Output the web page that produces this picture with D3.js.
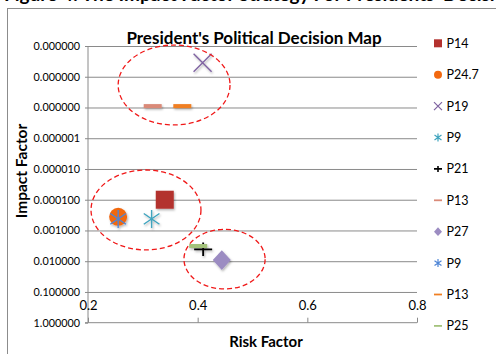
<!DOCTYPE html>
<html lang="en">
<head>
<meta charset="utf-8">
<title>President's Political Decision Map</title>
<script src="https://d3js.org/d3.v7.min.js"></script>
<style>
  body { margin: 0; background: #fff; }
  svg { display: block; }
  text { font-family: Lato, "Open Sans", sans-serif; fill: #000; }
  .domain { display: none; }
</style>
</head>
<body>
<script>
// data
const seriesNames = ["P14", "P24.7", "P19", "P9", "P21", "P13", "P27", "P9", "P13", "P25"];
const riskValues = [0.340, 0.255, 0.409, 0.316, 0.410, 0.318, 0.444, 0.255, 0.372, 0.401];
const impactValues = [0.0001, 0.00036, 3.5e-9, 0.00042, 0.0041, 9e-8, 0.0092, 0.00042, 9e-8, 0.0032];
const yTicks = [1e-9, 1e-8, 1e-7, 1e-6, 1e-5, 1e-4, 1e-3, 1e-2, 1e-1, 1];
const xTicks = [0.2, 0.4, 0.6, 0.8];

// dashed annotation rings: [xmin, xmax], [ymin, ymax] in data units
const ringX = [[0.255, 0.459], [0.2055, 0.406], [0.375, 0.523]];
const ringY = [[9.3e-10, 3.7e-7], [1.08e-5, 4.3e-3], [9.2e-4, 0.08]];

// marker style per series
const markerType = ["square", "circle", "x", "star", "plus", "dash", "diamond", "star", "dash", "dash"];
const markerColor = ["#B3312E", "#F2680F", "#7F63A1", "#3FA4BE", "#000000", "#DA8A78", "#9C8CC2", "#4F86D6", "#F07F22", "#A3C27A"];

const W = 496, H = 354;
const svg = d3.select("body").append("svg").attr("width", W).attr("height", H);

const defs = svg.append("defs");
defs.append("filter").attr("id", "shadow")
    .attr("x", "-50%").attr("y", "-50%").attr("width", "200%").attr("height", "200%")
  .append("feDropShadow")
    .attr("dx", 1).attr("dy", 1.5).attr("stdDeviation", 1)
    .attr("flood-color", "#000").attr("flood-opacity", 0.3);

// caption of the page above the chart (cut off by the crop)
svg.append("text")
    .attr("x", 4).attr("y", 1)
    .style("font-size", "19px").style("font-weight", "bold")
    .text("Figure 4: The Impact Factor Strategy For Presidents' Decisions");

// chart frame
svg.append("rect")
    .attr("x", 7.5).attr("y", 8.5).attr("width", 600).attr("height", 600)
    .attr("fill", "#fff").attr("stroke", "#8c8c8c");

const x = d3.scaleLinear().domain([0.2, 0.8]).range([88, 417]);
const y = d3.scaleLog().domain([1e-9, 1]).range([46, 322.7]);

// horizontal gridlines
svg.append("g")
    .attr("transform", "translate(88,0)")
    .call(d3.axisLeft(y).tickValues(yTicks.slice(0, -1)).tickSize(-(417 - 88)).tickFormat(""))
    .selectAll("line").attr("stroke", "#8a8a8a").attr("stroke-width", 1);

// y axis
const yAxis = svg.append("g")
    .attr("transform", "translate(88,0)")
    .call(d3.axisLeft(y).tickValues(yTicks).tickSize(3).tickPadding(5).tickFormat(d3.format(".6f")));
yAxis.selectAll("line").attr("stroke", "#8a8a8a");
yAxis.selectAll("text").style("font-size", "10.8px").style("font-family", "Lato, sans-serif");
svg.append("line")
    .attr("x1", 88).attr("x2", 88).attr("y1", y(1e-9)).attr("y2", y(1))
    .attr("stroke", "#8a8a8a");

// x axis along the bottom, labels above the line
const xAxis = svg.append("g")
    .attr("transform", "translate(0," + y(1) + ")")
    .call(d3.axisTop(x).tickValues(xTicks).tickSize(5).tickPadding(8).tickFormat(d3.format(".1f")));
xAxis.selectAll("line").attr("stroke", "#8a8a8a");
xAxis.selectAll("text").style("font-size", "13px").style("font-family", "Lato, sans-serif");
svg.append("line")
    .attr("x1", 85).attr("x2", 417).attr("y1", y(1)).attr("y2", y(1))
    .attr("stroke", "#8a8a8a");

// title and axis titles
svg.append("text")
    .attr("x", 254).attr("y", 43.5).attr("text-anchor", "middle")
    .style("font-size", "17px").style("font-weight", "bold")
    .text("President's Political Decision Map");

svg.append("text")
    .attr("transform", "translate(27,171) rotate(-90)").attr("text-anchor", "middle")
    .style("font-size", "15.5px").style("font-weight", "bold")
    .text("Impact Factor");

svg.append("text")
    .attr("x", 266).attr("y", 347.3).attr("text-anchor", "middle")
    .style("font-size", "15px").style("font-weight", "bold")
    .text("Risk Factor");

// marker drawing
function drawMarker(g, type, color, s, lw) {
  const h = s / 2;
  if (type === "square") {
    g.append("rect").attr("x", -h).attr("y", -h).attr("width", s).attr("height", s).attr("fill", color);
  } else if (type === "circle") {
    g.append("circle").attr("r", h).attr("fill", color);
  } else if (type === "diamond") {
    g.append("path").attr("d", `M0,${-h * 1.1}L${h},0L0,${h * 1.1}L${-h},0Z`).attr("fill", color);
  } else if (type === "x") {
    g.append("path").attr("d", `M${-h},${-h}L${h},${h}M${-h},${h}L${h},${-h}`)
      .attr("stroke", color).attr("stroke-width", lw).attr("fill", "none");
  } else if (type === "star") {
    const d = h * 0.87;
    g.append("path").attr("d", `M${-d},${-h * 0.6}L${d},${h * 0.6}M${-d},${h * 0.6}L${d},${-h * 0.6}M0,${-h}L0,${h}`)
      .attr("stroke", color).attr("stroke-width", lw).attr("fill", "none");
  } else if (type === "plus") {
    g.append("path").attr("d", `M${-h},0L${h},0M0,${-h * 0.75}L0,${h * 0.75}`)
      .attr("stroke", color).attr("stroke-width", lw * 1.3).attr("fill", "none");
  } else if (type === "dash") {
    g.append("rect").attr("x", -h).attr("y", -s * 0.11).attr("width", s).attr("height", s * 0.22).attr("fill", color);
  }
}

// points
const points = svg.append("g").attr("filter", "url(#shadow)");
seriesNames.forEach((name, i) => {
  const g = points.append("g")
      .attr("transform", `translate(${x(riskValues[i])},${y(impactValues[i])})`);
  drawMarker(g, markerType[i], markerColor[i], 18, 1.4);
});

// dashed rings
ringX.forEach((rx, i) => {
  const x0 = x(rx[0]), x1 = x(rx[1]);
  const y0 = y(ringY[i][0]), y1 = y(ringY[i][1]);
  svg.append("ellipse")
      .attr("cx", (x0 + x1) / 2).attr("cy", (y0 + y1) / 2)
      .attr("rx", (x1 - x0) / 2).attr("ry", (y1 - y0) / 2)
      .attr("fill", "none").attr("stroke", "#F01818")
      .attr("stroke-width", 1.3).attr("stroke-dasharray", "5,3");
});

// legend
const legend = svg.append("g").attr("transform", "translate(438,43.3)");
seriesNames.forEach((name, i) => {
  const row = legend.append("g").attr("transform", `translate(0,${i * 31.4})`);
  drawMarker(row, markerType[i], markerColor[i], 8, 1.2);
  row.append("text").attr("x", 8.5).attr("dy", "0.36em")
      .style("font-size", "12.5px").text(name);
});
</script>
</body>
</html>
